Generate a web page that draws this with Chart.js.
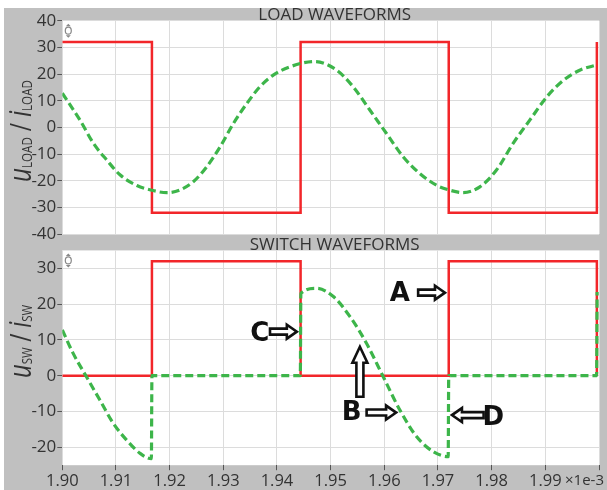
<!DOCTYPE html>
<html>
<head>
<meta charset="utf-8">
<script src="https://cdn.jsdelivr.net/npm/chart.js@4.4.0/dist/chart.umd.min.js"></script>
<style>
  html, body { margin: 0; padding: 0; background: #fff; }
  #wrap { position: relative; width: 607px; height: 490px; overflow: hidden; }
  #bg { position: absolute; left: 4px; top: 8px; right: 0; bottom: 0; background: #c0c0c0; }
  #c1 { position: absolute; left: 0; top: 0; }
  #c2 { position: absolute; left: 0; top: 236px; }
</style>
</head>
<body>
<div id="wrap">
  <div id="bg"></div>
  <canvas id="c1" width="607" height="248"></canvas>
  <canvas id="c2" width="607" height="254"></canvas>
</div>
<script>
// time axis (x1e-3 s)
const xTicks = [1.90, 1.91, 1.92, 1.93, 1.94, 1.95, 1.96, 1.97, 1.98, 1.99, 2.00];
const loadYTicks = [-40, -30, -20, -10, 0, 10, 20, 30, 40];
const swYTicks = [-20, -10, 0, 10, 20, 30];

// load voltage (red square wave)
const loadVoltT = [1.9000, 1.9167, 1.9167, 1.9444, 1.9444, 1.9720, 1.9720, 1.9996, 1.9996];
const loadVoltV = [32, 32, -32, -32, 32, 32, -32, -32, 32];

// load current (green dashed)
const loadCurT = [1.9000, 1.9033, 1.9058, 1.9083, 1.9108, 1.9139, 1.9167, 1.9195, 1.9219, 1.9244,
                  1.9269, 1.9294, 1.9319, 1.9344, 1.9368, 1.9393, 1.9424, 1.9470, 1.9511, 1.9542,
                  1.9573, 1.9604, 1.9635, 1.9666, 1.9698, 1.9719, 1.9747, 1.9778, 1.9809, 1.9840,
                  1.9871, 1.9903, 1.9934, 1.9965, 1.9996];
const loadCurV = [12.8, 2.7, -6.0, -12.3, -17.9, -21.8, -23.6, -24.5, -23.5, -20.4,
                  -14.8, -7.3, 1.5, 9.0, 15.2, 19.6, 22.7, 24.7, 21.5, 15.2,
                  6.5, -2.3, -11.0, -17.3, -21.8, -23.4, -24.5, -22.3, -16.0, -6.0,
                  2.7, 11.5, 17.7, 21.5, 23.4];

// switch voltage (red)
const swVoltT = [1.9000, 1.9167, 1.9167, 1.9444, 1.9444, 1.9720, 1.9720, 1.9996, 1.9996];
const swVoltV = [0, 0, 32, 32, 0, 0, 32, 32, 0];

// switch current (green dashed)
const swCurT = [1.9000, 1.9020, 1.9045, 1.9070, 1.9095, 1.9120, 1.9145, 1.91660, 1.91670, 1.94435,
                1.94445, 1.9474, 1.9505, 1.9536, 1.9567, 1.9598, 1.9629, 1.9660, 1.9691, 1.97190,
                1.97200, 1.99955, 1.99965];
const swCurV = [12.8, 6.3, -0.3, -6.8, -13.3, -18.0, -21.7, -23.2, 0, 0,
                23.0, 24.4, 22.1, 16.5, 9.0, -0.3, -9.6, -17.0, -21.2, -22.6,
                0, 0, 23.4];

// annotation letters and arrows (data coords)
const annLabels = ['A', 'B', 'C', 'D'];
const annLabelT = [1.9629, 1.9539, 1.9368, 1.9803];
const annLabelV = [23.5, -9.6, 12.3, -11.0];
// [tailT, tailV, tipT, tipV]
const annArrows = [
  [1.9663, 23.2, 1.9713, 23.2],
  [1.9387, 12.3, 1.9437, 12.3],
  [1.9567, -10.3, 1.9622, -10.3],
  [1.9785, -11.0, 1.9726, -11.0]
];
const annUpArrow = [1.95545, -5.9, 1.95545, 8.1];

const RED = '#f2262a';
const GREEN = '#3db54a';
const TXT = '#333';
const tickFont = { family: '"Open Sans"', size: 16.5 };

function pts(t, v) {
  return t.map((x, i) => ({ x: x, y: v[i] }));
}

function drawArrow(ctx, x0, y0, x1, y1, sh, hh, hl) {
  const len = Math.hypot(x1 - x0, y1 - y0);
  const ang = Math.atan2(y1 - y0, x1 - x0);
  ctx.save();
  ctx.translate(x0, y0);
  ctx.rotate(ang);
  ctx.beginPath();
  ctx.moveTo(0, -sh);
  ctx.lineTo(len - hl, -sh);
  ctx.lineTo(len - hl, -hh);
  ctx.lineTo(len, 0);
  ctx.lineTo(len - hl, hh);
  ctx.lineTo(len - hl, sh);
  ctx.lineTo(0, sh);
  ctx.closePath();
  ctx.fillStyle = '#fff';
  ctx.fill();
  ctx.lineWidth = 2.6;
  ctx.lineJoin = 'miter';
  ctx.strokeStyle = '#111';
  ctx.stroke();
  ctx.restore();
}

function drawYTitle(ctx, cx, cy, sub, targetLen) {
  const parts = [
    ['u', 'italic 31px "Open Sans"', 0],
    [sub, '15px "Open Sans"', 1],
    [' / ', '29px "Open Sans"', 0],
    ['i', 'italic 31px "Open Sans"', 0],
    [sub, '15px "Open Sans"', 1]
  ];
  let total = 0;
  parts.forEach(p => { ctx.font = p[1]; total += ctx.measureText(p[0]).width; });
  ctx.save();
  ctx.translate(cx, cy);
  ctx.rotate(-Math.PI / 2);
  ctx.scale(targetLen / total, 1);
  ctx.fillStyle = TXT;
  ctx.textBaseline = 'alphabetic';
  ctx.textAlign = 'left';
  let x = -total / 2;
  parts.forEach(p => {
    ctx.font = p[1];
    ctx.fillText(p[0], x, 9 + p[2]);
    x += ctx.measureText(p[0]).width;
  });
  ctx.restore();
}

function drawIcon(ctx, x, y) {
  ctx.save();
  ctx.strokeStyle = '#888';
  ctx.fillStyle = '#888';
  ctx.lineWidth = 1.2;
  ctx.beginPath();
  ctx.ellipse(x, y, 3, 3.5, 0, 0, Math.PI * 2);
  ctx.stroke();
  ctx.beginPath();
  ctx.moveTo(x - 2.5, y - 4.5); ctx.lineTo(x + 2.5, y - 4.5); ctx.lineTo(x, y - 7); ctx.closePath();
  ctx.moveTo(x - 2.5, y + 4.5); ctx.lineTo(x + 2.5, y + 4.5); ctx.lineTo(x, y + 7); ctx.closePath();
  ctx.fill();
  ctx.restore();
}

function decor(conf) {
  return {
    id: 'decor',
    beforeDraw(chart) {
      const a = chart.chartArea, ctx = chart.ctx;
      ctx.save();
      ctx.fillStyle = '#fff';
      ctx.fillRect(a.left, a.top, a.right - a.left, a.bottom - a.top);
      ctx.restore();
    },
    afterDraw(chart) {
      const a = chart.chartArea, ctx = chart.ctx;
      const xs = chart.scales.x, ys = chart.scales.y;
      ctx.save();
      // panel title
      ctx.font = '17px "Open Sans"';
      ctx.fillStyle = TXT;
      ctx.textAlign = 'center';
      ctx.textBaseline = 'alphabetic';
      ctx.fillText(conf.title, (a.left + a.right) / 2 + 4, a.top - 0.5);
      ctx.restore();
      drawYTitle(ctx, 22, conf.yTitleY, conf.sub, conf.yTitleLen);
      drawIcon(ctx, a.left + 6, a.top + 10);
      if (conf.bottom) {
        ctx.save();
        ctx.font = '15px "Open Sans"';
        ctx.fillStyle = TXT;
        ctx.textAlign = 'right';
        ctx.textBaseline = 'middle';
        ctx.fillText('\u00d71e-3', 604, a.bottom + 16);
        // letters
        ctx.font = 'bold 26px "DejaVu Sans"';
        ctx.fillStyle = '#111';
        ctx.textAlign = 'center';
        ctx.textBaseline = 'alphabetic';
        annLabels.forEach((l, i) => {
          ctx.fillText(l, xs.getPixelForValue(annLabelT[i]), ys.getPixelForValue(annLabelV[i]) + 9.5);
        });
        ctx.restore();
        annArrows.forEach(r => {
          drawArrow(ctx, xs.getPixelForValue(r[0]), ys.getPixelForValue(r[1]),
            xs.getPixelForValue(r[2]), ys.getPixelForValue(r[3]), 3, 7, 10);
        });
        drawArrow(ctx, xs.getPixelForValue(annUpArrow[0]), ys.getPixelForValue(annUpArrow[1]),
          xs.getPixelForValue(annUpArrow[2]), ys.getPixelForValue(annUpArrow[3]), 3.5, 7.5, 16);
      }
    }
  };
}

function makeChart(id, conf) {
  return new Chart(document.getElementById(id), {
    type: 'line',
    data: {
      datasets: [
        {
          data: conf.green,
          borderColor: GREEN,
          borderWidth: 3.2,
          borderDash: [8, 4],
          pointRadius: 0,
          cubicInterpolationMode: 'monotone',
          fill: false
        },
        {
          data: conf.red,
          borderColor: RED,
          borderWidth: 2.5,
          pointRadius: 0,
          tension: 0,
          fill: false
        }
      ]
    },
    options: {
      responsive: false,
      animation: false,
      events: [],
      layout: { padding: conf.padding },
      plugins: { legend: { display: false }, tooltip: { enabled: false } },
      scales: {
        x: {
          type: 'linear',
          min: 1.90,
          max: 2.00,
          afterBuildTicks: s => { s.ticks = xTicks.map(v => ({ value: v })); },
          afterFit: s => { s.height = conf.bottom ? 24.8 : 0; },
          ticks: {
            display: conf.bottom,
            autoSkip: false,
            maxRotation: 0,
            padding: 1,
            color: TXT,
            font: tickFont,
            callback: v => (v > 1.995 ? '' : v.toFixed(2))
          },
          grid: { color: '#dcdcdc', tickColor: '#555', tickLength: 5, drawTicks: conf.bottom },
          border: { display: false }
        },
        y: {
          min: conf.ymin,
          max: conf.ymax,
          afterBuildTicks: s => { s.ticks = conf.yticks.map(v => ({ value: v })); },
          afterFit: s => { s.width = 62.3; },
          ticks: { padding: 1, color: TXT, font: { family: '"Open Sans"', size: 17 } },
          grid: { color: '#dcdcdc', tickColor: '#555', tickLength: 5 },
          border: { display: false }
        }
      }
    },
    plugins: [decor(conf)]
  });
}

makeChart('c1', {
  title: 'LOAD WAVEFORMS',
  sub: 'LOAD',
  yTitleY: 131,
  yTitleLen: 102,
  bottom: false,
  ymin: -40, ymax: 40, yticks: loadYTicks,
  padding: { left: 0, right: 8, top: 20.7, bottom: 14 },
  green: pts(loadCurT, loadCurV),
  red: pts(loadVoltT, loadVoltV)
});

makeChart('c2', {
  title: 'SWITCH WAVEFORMS',
  sub: 'SW',
  yTitleY: 341.5 - 236,
  yTitleLen: 73,
  bottom: true,
  ymin: -25, ymax: 35, yticks: swYTicks,
  padding: { left: 0, right: 8, top: 14.4, bottom: 0 },
  green: pts(swCurT, swCurV),
  red: pts(swVoltT, swVoltV)
});
</script>
</body>
</html>
